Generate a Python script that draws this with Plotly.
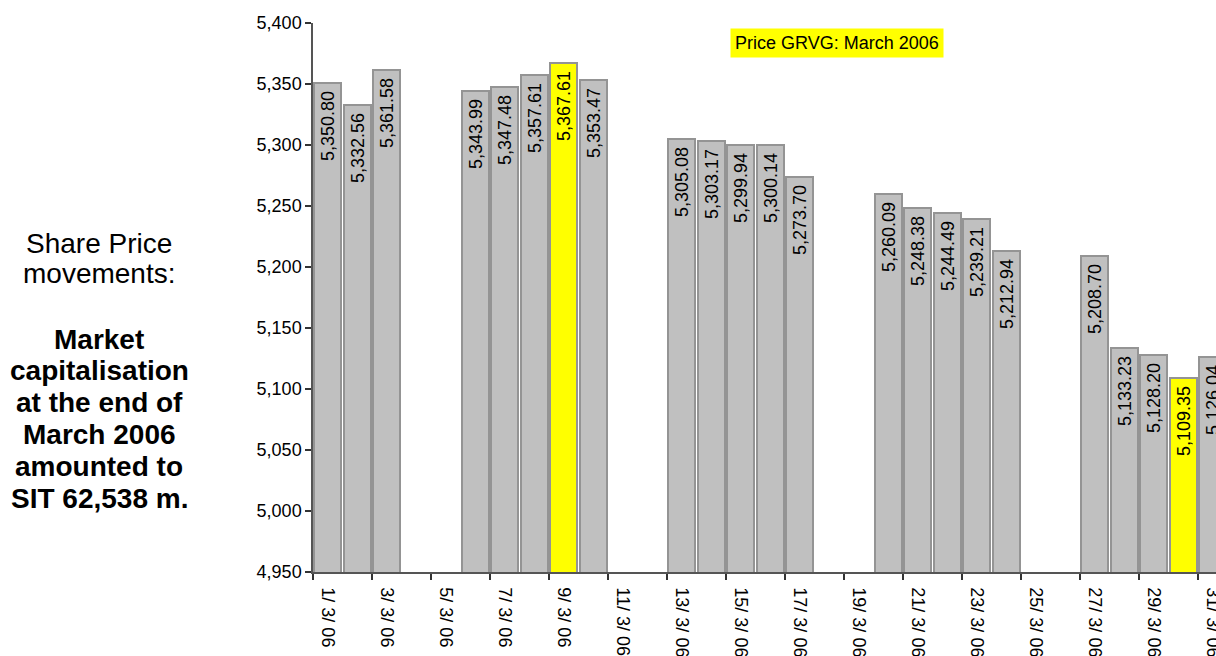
import plotly.graph_objects as go

# ---- data ----
dates = ["2006-03-01", "2006-03-02", "2006-03-03",
         "2006-03-06", "2006-03-07", "2006-03-08", "2006-03-09", "2006-03-10",
         "2006-03-13", "2006-03-14", "2006-03-15", "2006-03-16", "2006-03-17",
         "2006-03-20", "2006-03-21", "2006-03-22", "2006-03-23", "2006-03-24",
         "2006-03-27", "2006-03-28", "2006-03-29", "2006-03-30", "2006-03-31"]
prices = [5350.80, 5332.56, 5361.58,
          5343.99, 5347.48, 5357.61, 5367.61, 5353.47,
          5305.08, 5303.17, 5299.94, 5300.14, 5273.70,
          5260.09, 5248.38, 5244.49, 5239.21, 5212.94,
          5208.70, 5133.23, 5128.20, 5109.35, 5126.04]
highlighted = ["2006-03-09", "2006-03-30"]

tick_dates = ["2006-03-01", "2006-03-03", "2006-03-05", "2006-03-07", "2006-03-09",
              "2006-03-11", "2006-03-13", "2006-03-15", "2006-03-17", "2006-03-19",
              "2006-03-21", "2006-03-23", "2006-03-25", "2006-03-27", "2006-03-29",
              "2006-03-31"]
tick_labels = ["1/ 3/ 06", "3/ 3/ 06", "5/ 3/ 06", "7/ 3/ 06", "9/ 3/ 06",
               "11/ 3/ 06", "13/ 3/ 06", "15/ 3/ 06", "17/ 3/ 06", "19/ 3/ 06",
               "21/ 3/ 06", "23/ 3/ 06", "25/ 3/ 06", "27/ 3/ 06", "29/ 3/ 06",
               "31/ 3/ 06"]

title_text = "Price GRVG: March 2006"
side_lines_regular = ["Share Price", "movements:"]
side_lines_bold = ["Market", "capitalisation", "at the end of", "March 2006",
                   "amounted to", "SIT 62,538 m."]

# ---- styling ----
FONT = "Liberation Sans, Arial, sans-serif"
GREY = "#C0C0C0"
YELLOW = "#FFFF00"
DAY_MS = 86400000
PLOT_TOP, PLOT_BOTTOM, PLOT_LEFT, PLOT_RIGHT = 23, 572, 313, 1216
PLOT_H = PLOT_BOTTOM - PLOT_TOP
PLOT_W = PLOT_RIGHT - PLOT_LEFT


def px_to_paper_y(py):
    return (PLOT_BOTTOM - py) / PLOT_H


def px_to_paper_x(px):
    return (px - PLOT_LEFT) / PLOT_W


colors = [YELLOW if d in highlighted else GREY for d in dates]

fig = go.Figure()
fig.add_trace(go.Bar(
    x=dates, y=prices,
    width=0.9 * DAY_MS,
    marker=dict(color=colors, line=dict(color="#949494", width=2)),
    texttemplate="%{y:,.2f}\u00a0",
    textposition="inside",
    insidetextanchor="end",
    textangle=-90,
    textfont=dict(family=FONT, size=18, color="black"),
    cliponaxis=True,
    hoverinfo="skip",
))

fig.update_layout(
    width=1216, height=656,
    margin=dict(l=PLOT_LEFT, r=1216 - PLOT_RIGHT, t=PLOT_TOP, b=656 - PLOT_BOTTOM,
                autoexpand=False),
    paper_bgcolor="white", plot_bgcolor="white",
    showlegend=False,
    font=dict(family=FONT, size=18, color="black"),
    bargap=0,
)

fig.update_xaxes(
    type="date", automargin=False,
    range=["2006-02-28 12:00", "2006-03-31 02:38"],
    tickmode="array", tickvals=tick_dates, ticktext=tick_labels,
    tickangle=90, ticks="", ticklen=0, ticklabelstandoff=10,
    ticklabeloverflow="allow",
    tickfont=dict(family=FONT, size=18, color="black"),
    showline=True, linecolor="#555555", linewidth=1.5,
    showgrid=False, zeroline=False,
    minor=dict(tickmode="linear", tick0="2006-02-28 12:00", dtick=2 * DAY_MS,
               ticks="outside", ticklen=6, tickcolor="#333333", tickwidth=1.5,
               showgrid=False),
)

fig.update_yaxes(
    automargin=False,
    range=[4950, 5400], tickmode="linear", tick0=4950, dtick=50,
    tickformat=",", ticks="outside", ticklen=6, tickcolor="#333333", tickwidth=1.5,
    tickfont=dict(family=FONT, size=18, color="black"),
    showline=True, linecolor="#555555", linewidth=1.5,
    showgrid=False, zeroline=False,
)

fig.add_annotation(
    xref="paper", yref="paper", x=px_to_paper_x(837), y=px_to_paper_y(43),
    text=title_text, showarrow=False,
    font=dict(family=FONT, size=18, color="black"),
    bgcolor=YELLOW, borderpad=4,
    xanchor="center", yanchor="middle",
)

SIDE_X = px_to_paper_x(99)
for i, line in enumerate(side_lines_regular):
    fig.add_annotation(
        xref="paper", yref="paper", x=SIDE_X, y=px_to_paper_y(243 + 30 * i),
        text=line, showarrow=False,
        font=dict(family=FONT, size=28, color="black"),
        xanchor="center", yanchor="middle",
    )
for i, line in enumerate(side_lines_bold):
    fig.add_annotation(
        xref="paper", yref="paper", x=SIDE_X, y=px_to_paper_y(339 + 31.8 * i),
        text="<b>" + line + "</b>", showarrow=False,
        font=dict(family=FONT, size=28, color="black"),
        xanchor="center", yanchor="middle",
    )

fig.write_html("out.html")
